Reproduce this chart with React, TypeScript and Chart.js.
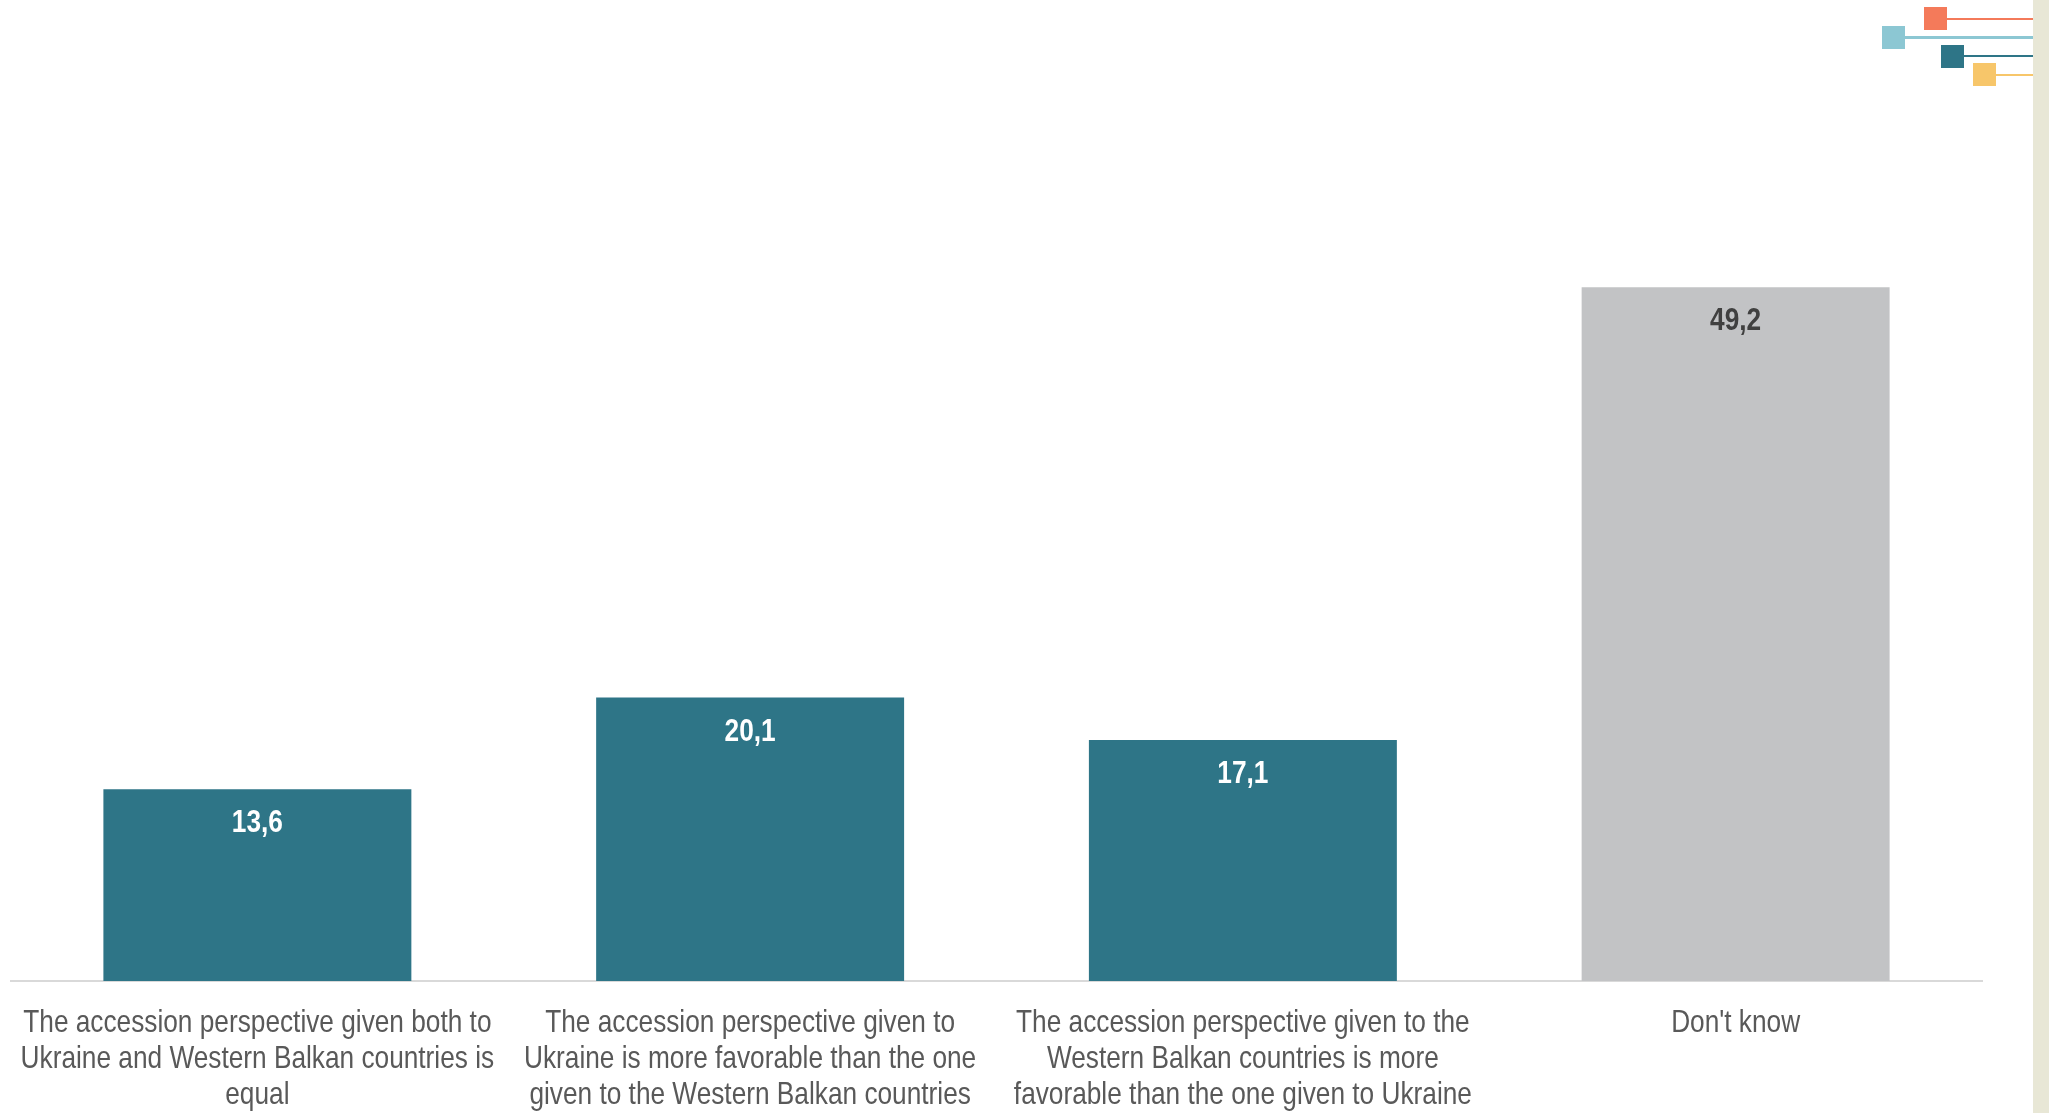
import React, { useEffect, useRef } from "react";
import { Chart, registerables } from "chart.js";

Chart.register(...registerables);

const categories: string[][] = [
  ["The accession perspective given both to", "Ukraine and Western Balkan countries is", "equal"],
  ["The accession perspective given to", "Ukraine is more favorable than the one", "given to the Western Balkan countries"],
  ["The accession perspective given to the", "Western Balkan countries is more", "favorable than the one given to Ukraine"],
  ["Don't know"],
];
const values: number[] = [13.6, 20.1, 17.1, 49.2];
const barColors: string[] = ["#2E7587", "#2E7587", "#2E7587", "#C2C3C5"];
const labelColors: string[] = ["#FFFFFF", "#FFFFFF", "#FFFFFF", "#404040"];

const FONT = "'Liberation Sans', Arial, sans-serif";
const NARROW = 0.82;

// Draws value labels and category tick labels in a narrow (horizontally condensed) style.
const narrowTextPlugin = {
  id: "narrowText",
  afterDatasetsDraw(chart: any) {
    const { ctx } = chart;
    const meta = chart.getDatasetMeta(0);
    ctx.save();
    ctx.font = `bold 32px ${FONT}`;
    ctx.textAlign = "center";
    ctx.textBaseline = "alphabetic";
    meta.data.forEach((bar: any, i: number) => {
      ctx.save();
      ctx.translate(bar.x, bar.y + 43);
      ctx.scale(NARROW, 1);
      ctx.fillStyle = labelColors[i];
      ctx.fillText(values[i].toFixed(1).replace(".", ","), 0, 0);
      ctx.restore();
    });
    ctx.restore();
  },
  afterDraw(chart: any) {
    const { ctx } = chart;
    const xScale = chart.scales.x;
    ctx.save();
    ctx.font = `32px ${FONT}`;
    ctx.textAlign = "center";
    ctx.textBaseline = "alphabetic";
    ctx.fillStyle = "#595959";
    xScale.ticks.forEach((_t: any, i: number) => {
      const x = xScale.getPixelForTick(i);
      const lines = categories[i];
      lines.forEach((line: string, j: number) => {
        ctx.save();
        ctx.translate(x, xScale.top + 51 + j * 36);
        ctx.scale(NARROW, 1);
        ctx.fillText(line, 0, 0);
        ctx.restore();
      });
    });
    ctx.restore();
  },
};

export default function App() {
  const ref = useRef<HTMLCanvasElement | null>(null);
  useEffect(() => {
    if (!ref.current) return;
    const chart = new Chart(ref.current, {
      type: "bar",
      data: {
        labels: categories,
        datasets: [
          {
            data: values,
            backgroundColor: barColors,
            borderWidth: 0,
            categoryPercentage: 0.625,
            barPercentage: 1,
          },
        ],
      },
      options: {
        responsive: false,
        animation: false,
        layout: { padding: { left: 11, right: 67, top: 135, bottom: 0 } },
        plugins: { legend: { display: false }, tooltip: { enabled: false } },
        scales: {
          x: {
            grid: { display: false, drawTicks: false },
            border: { display: true, color: "#D9D9D9", width: 2 },
            ticks: {
              color: "rgba(0,0,0,0)",
              font: { family: FONT, size: 26, lineHeight: 36 / 26 },
              padding: 12,
              maxRotation: 0,
              minRotation: 0,
              autoSkip: false,
            },
          },
          y: {
            display: false,
            min: 0,
            max: 60,
          },
        },
      },
      plugins: [narrowTextPlugin],
    });
    return () => chart.destroy();
  }, []);

  const sq = (left: number, top: number, color: string) => (
    <div style={{ position: "absolute", left, top, width: 23, height: 23, background: color }} />
  );
  const line = (left: number, top: number, color: string, h: number) => (
    <div style={{ position: "absolute", left, top, width: 2033 - left, height: h, background: color }} />
  );

  return (
    <div style={{ position: "absolute", left: 0, top: 0, width: 2049, height: 1113, background: "#FFFFFF", overflow: "hidden" }}>
      <canvas ref={ref} width={2049} height={1113} style={{ position: "absolute", left: 0, top: 0 }} />
      <div style={{ position: "absolute", left: 2033, top: 0, width: 16, height: 1113, background: "#E8E7D6" }} />
      {line(1946, 18, "#F47A5A", 2)}
      {sq(1924, 7, "#F47A5A")}
      {line(1904, 36, "#8CC7D3", 3)}
      {sq(1882, 26, "#8CC7D3")}
      {line(1964, 55, "#2E7587", 2)}
      {sq(1941, 45, "#2E7587")}
      {line(1996, 74, "#F7C66A", 2)}
      {sq(1973, 63, "#F7C66A")}
    </div>
  );
}
